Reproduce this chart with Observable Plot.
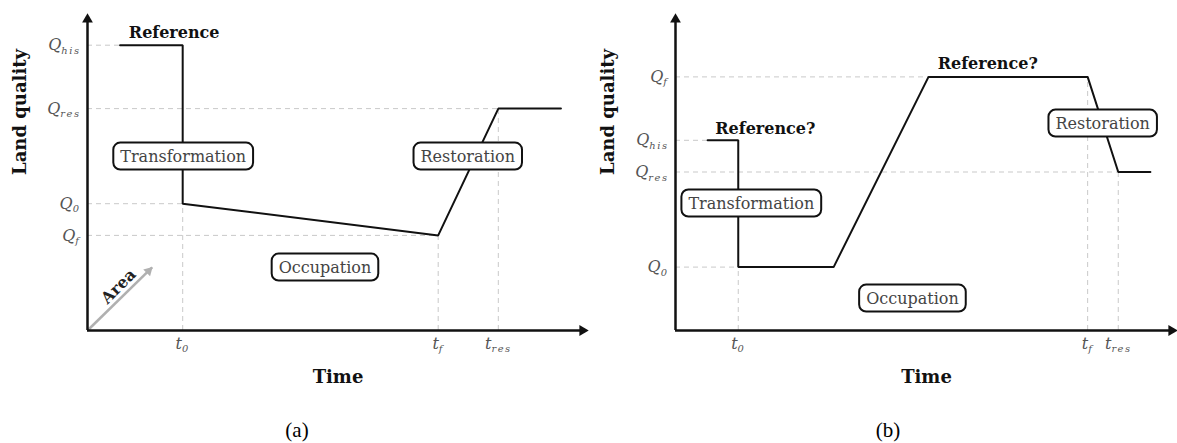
<!DOCTYPE html>
<html><head><meta charset="utf-8">
<script src="https://cdn.jsdelivr.net/npm/d3@7"></script>
<script src="https://cdn.jsdelivr.net/npm/@observablehq/plot@0.6"></script>
<style>
body{margin:0;background:#fff;}
#wrap{display:flex;width:1177px;}
.panel{display:flex;flex-direction:column;}
.cap{font-family:"Liberation Serif","Times New Roman",serif;font-size:21px;text-align:center;height:43px;box-sizing:border-box;padding-top:20px;line-height:20px;color:#000;}
</style></head><body><div id="wrap"></div>
<script>
// ---------- Panel (a) ----------
const panelATimes   = [6.5, 19, 19, 70, 82, 94.5];
const panelAQuality = [90, 90, 40, 30, 70, 70];
const panelAQTicks  = [90, 70, 40, 30];
const panelAQLabels = ["Q_his", "Q_res", "Q_0", "Q_f"];
const panelAHGuideEnd = [6.5, 82, 19, 70];
const panelATTicks  = [19, 70, 82];
const panelATLabels = ["t_0", "t_f", "t_res"];
const panelAVGuideTop = [40, 30, 70];
const panelANotes = ["Reference"];
const panelANoteT = [17.3];
const panelANoteQ = [94];
const panelAPhases = ["Transformation", "Restoration", "Occupation"];
const panelAPhaseT = [19.1, 75.9, 47.4];
const panelAPhaseQ = [54.9, 54.9, 19.9];
const areaArrowT = [0, 12.9];
const areaArrowQ = [0, 19.9];
const areaLabel = ["Area"];
const areaLabelT = [6.2];
const areaLabelQ = [13.9];

// ---------- Panel (b) ----------
const panelBTimes   = [6.4, 12.5, 12.5, 31.5, 50.4, 82.1, 88.2, 94.6];
const panelBQuality = [60, 60, 20, 20, 80, 80, 50, 50];
const panelBQTicks  = [80, 60, 50, 20];
const panelBQLabels = ["Q_f", "Q_his", "Q_res", "Q_0"];
const panelBHGuideEnd = [50.4, 6.4, 88.2, 12.5];
const panelBTTicks  = [12.5, 82.1, 88.2];
const panelBTLabels = ["t_0", "t_f", "t_res"];
const panelBVGuideTop = [20, 80, 50];
const panelBNotes = ["Reference?", "Reference?"];
const panelBNoteT = [17.9, 62.2];
const panelBNoteQ = [63.7, 84.2];
const panelBPhases = ["Transformation", "Restoration", "Occupation"];
const panelBPhaseT = [15.1, 85.1, 47.2];
const panelBPhaseQ = [40.1, 65.3, 10.1];

const axisTitleX = "Time";
const axisTitleY = "Land quality";
const captions = ["(a)", "(b)"];

const SERIF = "'DejaVu Serif', 'Liberation Serif', serif";
const GUIDE = "#c9c9c9";
const INK = "#111";
const PHASE_NAMES = new Set([...panelAPhases, ...panelBPhases]);

function makePanel(cfg) {
  const path = cfg.times.map((t, i) => ({t, q: cfg.quality[i]}));
  const hGuides = cfg.qTicks.map((q, i) => ({q, t: cfg.hEnd[i]}));
  const vGuides = cfg.tTicks.map((t, i) => ({t, q: cfg.vTop[i]}));
  const qMap = new Map(cfg.qTicks.map((d, i) => [d, cfg.qLabels[i]]));
  const tMap = new Map(cfg.tTicks.map((d, i) => [d, cfg.tLabels[i]]));
  const notes = cfg.notes.map((s, i) => ({s, t: cfg.noteT[i], q: cfg.noteQ[i]}));
  const phases = cfg.phases.map((s, i) => ({s, t: cfg.phaseT[i], q: cfg.phaseQ[i]}));

  const marks = [
    Plot.ruleY(hGuides, {y: "q", x1: 0, x2: "t", stroke: GUIDE, strokeWidth: 1, strokeDasharray: "5,4"}),
    Plot.ruleX(vGuides, {x: "t", y1: 0, y2: "q", stroke: GUIDE, strokeWidth: 1, strokeDasharray: "5,4"})
  ];
  if (cfg.area) {
    const a = cfg.area;
    marks.push(
      Plot.link([{x1: a.t[0], y1: a.q[0], x2: a.t[1], y2: a.q[1]}], {x1: "x1", y1: "y1", x2: "x2", y2: "y2", stroke: "#b0b0b0", strokeWidth: 2.5}),
      Plot.dot([{t: a.t[1], q: a.q[1]}], {x: "t", y: "q", symbol: "triangle", r: 3.6, rotate: 45, fill: "#b0b0b0", stroke: "none", dx: -3.5, dy: 3.5}),
      Plot.text(a.labels.map((s, i) => ({s, t: a.labelT[i], q: a.labelQ[i]})), {x: "t", y: "q", text: "s", rotate: -45, fontWeight: "bold", fontSize: 16, fill: "#222", fontFamily: SERIF})
    );
  }
  marks.push(
    Plot.ruleX([0], {y1: 0, y2: 99, stroke: INK, strokeWidth: 2.5}),
    Plot.ruleY([0], {x1: 0, x2: 99, stroke: INK, strokeWidth: 2.5}),
    Plot.dot([{t: 0, q: 100}], {x: "t", y: "q", symbol: "triangle", r: 4, fill: INK, stroke: "none", dy: 6}),
    Plot.dot([{t: 100, q: 0}], {x: "t", y: "q", symbol: "triangle", r: 4, rotate: 90, fill: INK, stroke: "none", dx: -6}),
    Plot.line(path, {x: "t", y: "q", stroke: INK, strokeWidth: 2, strokeLinejoin: "miter"}),
    Plot.axisY(cfg.qTicks, {tickSize: 0, tickPadding: 7, tickFormat: d => qMap.get(d), fontStyle: "italic", fill: "#555", fontSize: 16, fontFamily: SERIF, label: null}),
    Plot.axisX(cfg.tTicks, {tickSize: 0, tickPadding: 7, tickFormat: d => tMap.get(d), fontStyle: "italic", fill: "#555", fontSize: 16, fontFamily: SERIF, label: null}),
    Plot.text(notes, {x: "t", y: "q", text: "s", fontWeight: "bold", fontSize: 16, fill: "#111", fontFamily: SERIF}),
    Plot.text(phases, {x: "t", y: "q", text: "s", fontSize: 16, fill: "#444", fontFamily: SERIF}),
    Plot.text([axisTitleX], {frameAnchor: "bottom", dy: 52, fontWeight: "bold", fontSize: 18, fill: "#111", fontFamily: SERIF}),
    Plot.text([axisTitleY], {frameAnchor: "left", dx: -67, dy: 3, rotate: -90, fontWeight: "bold", fontSize: 18, fill: "#111", fontFamily: SERIF})
  );

  return Plot.plot({
    width: cfg.width,
    height: 400,
    marginLeft: 87,
    marginRight: 0,
    marginTop: 13,
    marginBottom: 70,
    x: {domain: [0, 100]},
    y: {domain: [0, 100]},
    style: {fontFamily: SERIF, fontSize: "14px", overflow: "visible", background: "transparent"},
    marks
  });
}

function subscriptify(svg) {
  d3.select(svg).selectAll('g[aria-label$="tick label"] text').each(function () {
    const t = this.textContent;
    const parts = t.split("_");
    if (parts.length === 2) {
      this.textContent = "";
      d3.select(this).append("tspan").text(parts[0]);
      d3.select(this).append("tspan").attr("font-size", "0.62em").attr("dy", "0.35em").attr("letter-spacing", "1.5px").text(parts[1]);
    }
  });
}

function boxify(svg) {
  d3.select(svg).selectAll("text").each(function () {
    if (!PHASE_NAMES.has(this.textContent)) return;
    const bb = this.getBBox();
    const r = document.createElementNS("http://www.w3.org/2000/svg", "rect");
    r.setAttribute("x", bb.x - 7);
    r.setAttribute("y", bb.y - 4);
    r.setAttribute("width", bb.width + 14);
    r.setAttribute("height", bb.height + 8);
    r.setAttribute("rx", 7);
    r.setAttribute("fill", "white");
    r.setAttribute("stroke", "#111");
    r.setAttribute("stroke-width", 2);
    const tr = this.getAttribute("transform");
    if (tr) r.setAttribute("transform", tr);
    this.parentNode.insertBefore(r, this);
  });
}

const wrap = document.getElementById("wrap");
const configs = [
  {width: 588, times: panelATimes, quality: panelAQuality, qTicks: panelAQTicks, qLabels: panelAQLabels, hEnd: panelAHGuideEnd,
   tTicks: panelATTicks, tLabels: panelATLabels, vTop: panelAVGuideTop, notes: panelANotes, noteT: panelANoteT, noteQ: panelANoteQ,
   phases: panelAPhases, phaseT: panelAPhaseT, phaseQ: panelAPhaseQ,
   area: {t: areaArrowT, q: areaArrowQ, labels: areaLabel, labelT: areaLabelT, labelQ: areaLabelQ}, capPad: 6},
  {width: 589, times: panelBTimes, quality: panelBQuality, qTicks: panelBQTicks, qLabels: panelBQLabels, hEnd: panelBHGuideEnd,
   tTicks: panelBTTicks, tLabels: panelBTLabels, vTop: panelBVGuideTop, notes: panelBNotes, noteT: panelBNoteT, noteQ: panelBNoteQ,
   phases: panelBPhases, phaseT: panelBPhaseT, phaseQ: panelBPhaseQ, area: null, capPad: 11}
];
configs.forEach((cfg, i) => {
  const div = document.createElement("div");
  div.className = "panel";
  div.style.width = cfg.width + "px";
  const svg = makePanel(cfg);
  div.appendChild(svg);
  const cap = document.createElement("div");
  cap.className = "cap";
  cap.style.paddingLeft = cfg.capPad + "px";
  cap.textContent = captions[i];
  div.appendChild(cap);
  wrap.appendChild(div);
  subscriptify(svg);
  boxify(svg);
});
</script></body></html>
